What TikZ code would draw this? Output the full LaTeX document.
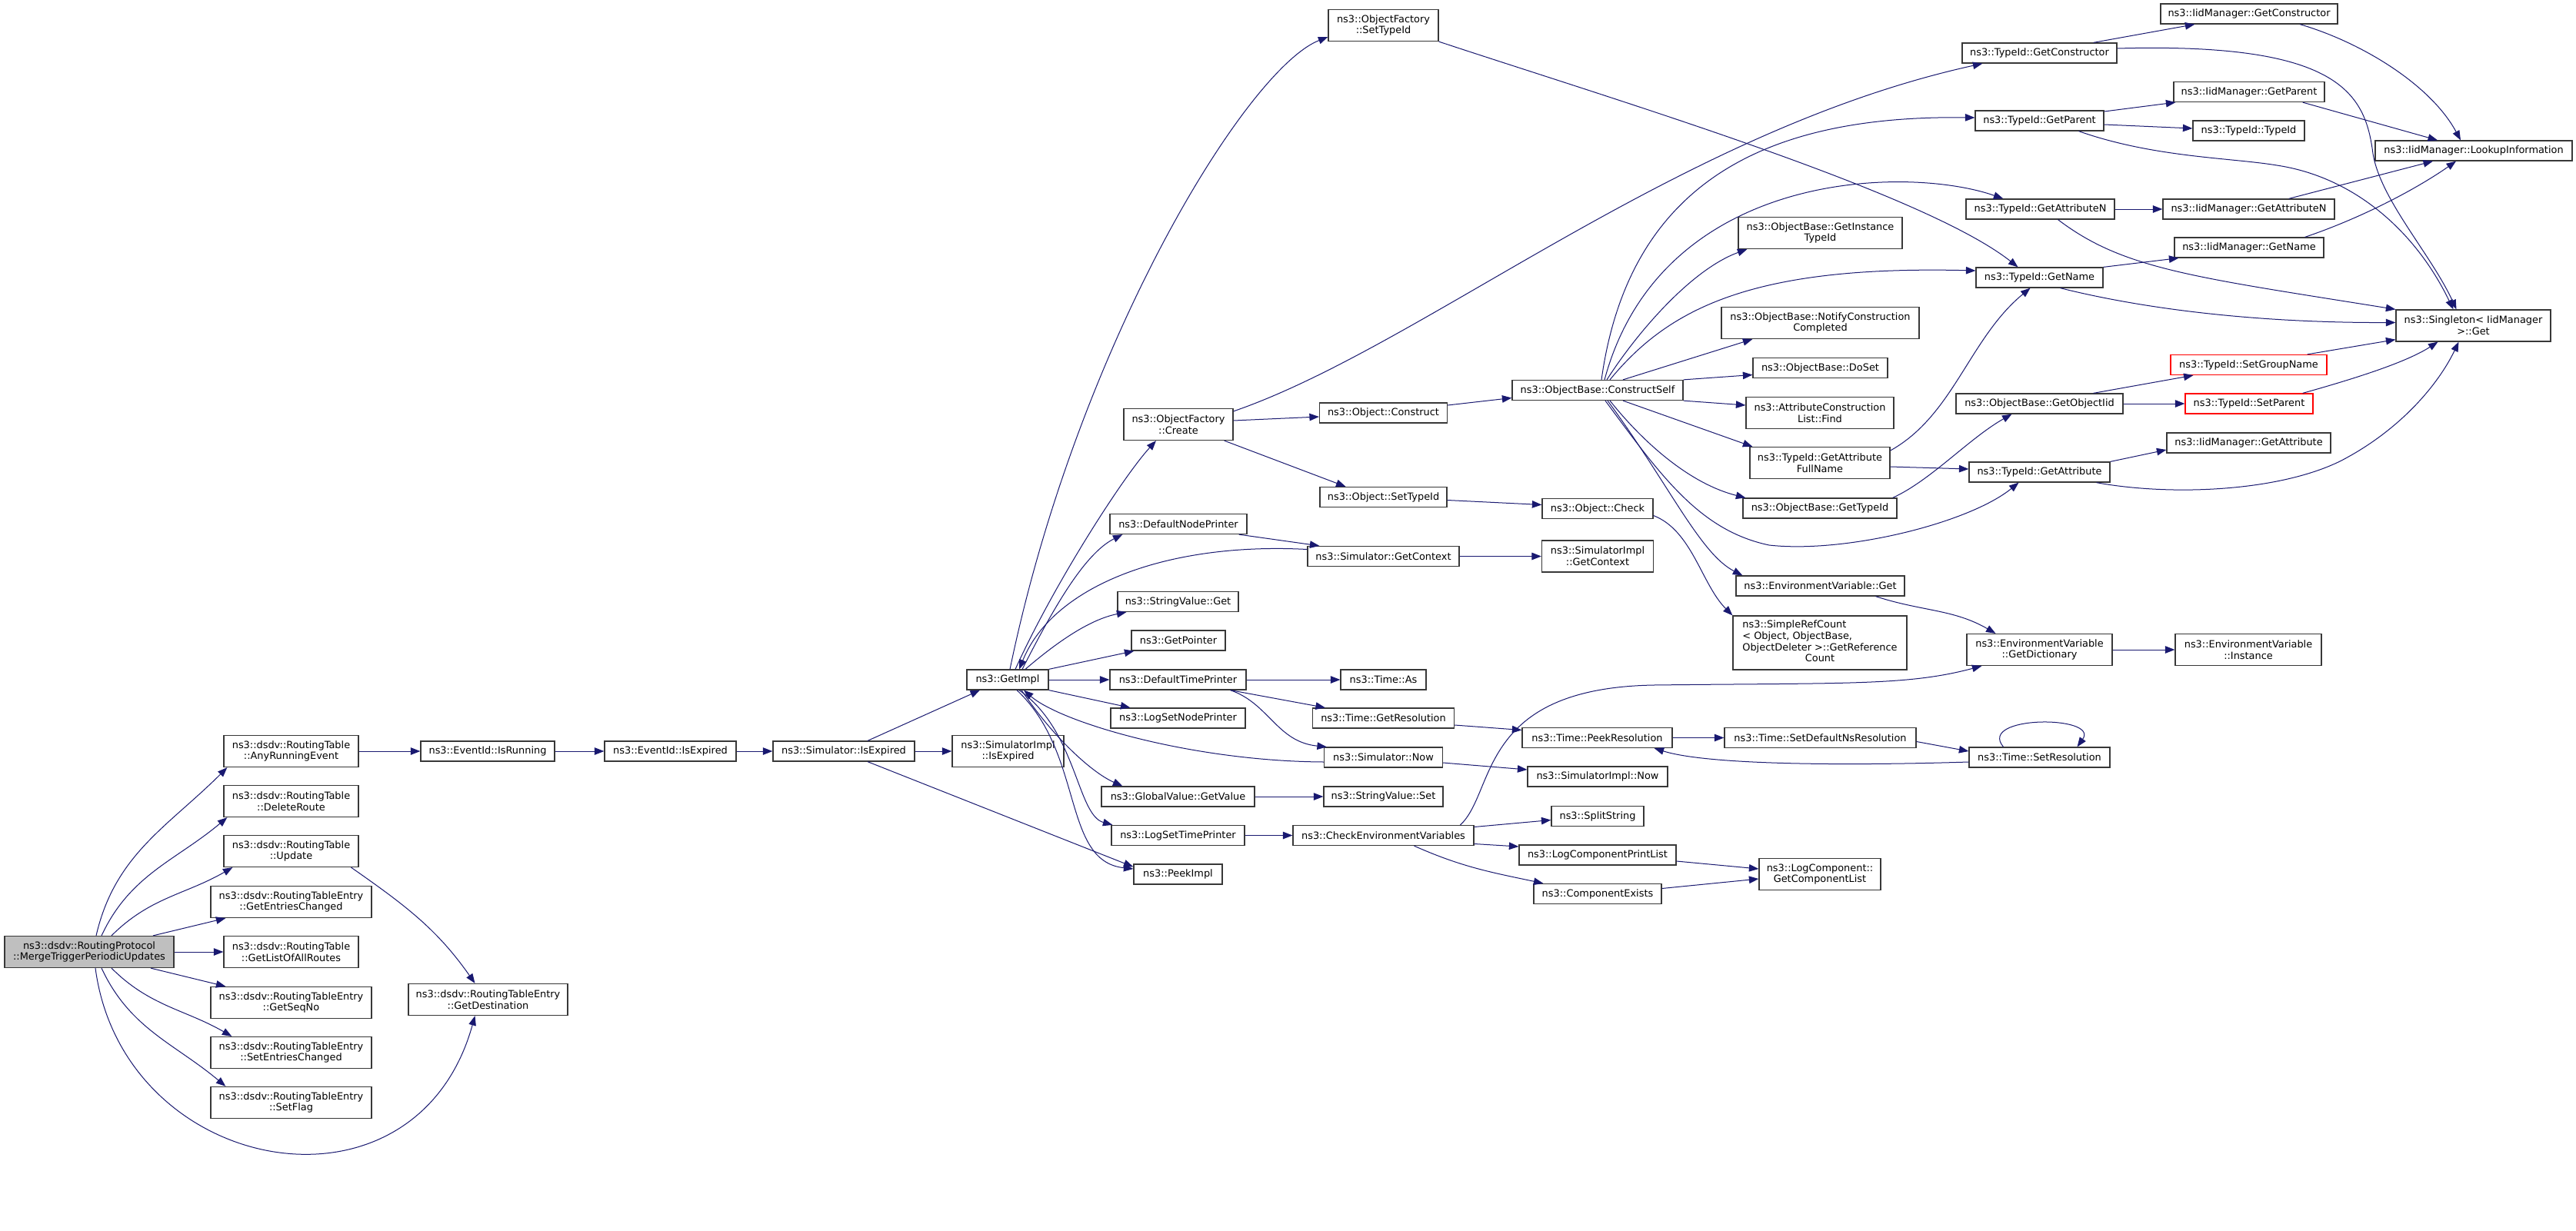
\documentclass[tikz,border=0pt]{standalone}
\usepackage{fontspec}
\usepackage{tikz}
\usetikzlibrary{arrows.meta}
\newfontfamily\dotfont{DejaVu Sans}
\definecolor{edgeblue}{HTML}{191970}
\definecolor{rootgray}{HTML}{BFBFBF}
\tikzset{
	fn/.style={draw=black!78, line width=1.25pt, fill=white, align=center, inner xsep=1pt, inner ysep=0pt, minimum height=26pt, font=\dotfont\fontsize{12.9}{14.7}\selectfont},
	fntwo/.style={fn, minimum height=41pt},
	fnred/.style={fn, draw=red},
	call/.style={draw=edgeblue, line width=1pt, -{Triangle[length=12.5pt,width=9.5pt]}},
}

\begin{document}
\begin{tikzpicture}[x=1pt,y=1pt]
			%%%%% START %%%%%
			
			\fill[white] (0,0) rectangle (3349,-1504);
			
			% caller and its direct callees
			\node[fntwo, fill=rootgray, minimum width=220] (root) at (116,-1238) {ns3::dsdv::RoutingProtocol\\::MergeTriggerPeriodicUpdates};
			\node[fntwo, minimum width=175] (anyrun) at (378.5,-977) {ns3::dsdv::RoutingTable\\::AnyRunningEvent};
			\node[fntwo, minimum width=175] (delroute) at (378.5,-1042) {ns3::dsdv::RoutingTable\\::DeleteRoute};
			\node[fntwo, minimum width=175] (update) at (378.5,-1107) {ns3::dsdv::RoutingTable\\::Update};
			\node[fntwo, minimum width=209] (getentch) at (378.5,-1173) {ns3::dsdv::RoutingTableEntry\\::GetEntriesChanged};
			\node[fntwo, minimum width=175] (listall) at (378.5,-1238) {ns3::dsdv::RoutingTable\\::GetListOfAllRoutes};
			\node[fntwo, minimum width=209] (seqno) at (378.5,-1304) {ns3::dsdv::RoutingTableEntry\\::GetSeqNo};
			\node[fntwo, minimum width=209] (setentch) at (378.5,-1369) {ns3::dsdv::RoutingTableEntry\\::SetEntriesChanged};
			\node[fntwo, minimum width=209] (setflag) at (378.5,-1434) {ns3::dsdv::RoutingTableEntry\\::SetFlag};
			\node[fn, minimum width=174] (isrun) at (634,-977) {ns3::EventId::IsRunning};
			\node[fntwo, minimum width=207] (getdest) at (634.5,-1300) {ns3::dsdv::RoutingTableEntry\\::GetDestination};
			\node[fn, minimum width=171] (eidexp) at (871.5,-977) {ns3::EventId::IsExpired};
			\node[fn, minimum width=184] (simexp) at (1097,-977) {ns3::Simulator::IsExpired};
			\node[fntwo, minimum width=145] (implexp) at (1310.5,-977) {ns3::SimulatorImpl\\::IsExpired};
			\node[fn, minimum width=106] (getimpl) at (1310,-884) {ns3::GetImpl};
			
			% callees of GetImpl
			\node[fntwo, minimum width=142] (ofcreate) at (1532,-552) {ns3::ObjectFactory\\::Create};
			\node[fn, minimum width=178] (dnodepr) at (1532,-681.5) {ns3::DefaultNodePrinter};
			\node[fn, minimum width=157] (svget) at (1531.5,-782.5) {ns3::StringValue::Get};
			\node[fn, minimum width=122] (getptr) at (1532,-833) {ns3::GetPointer};
			\node[fn, minimum width=177] (dtimepr) at (1531.5,-884) {ns3::DefaultTimePrinter};
			\node[fn, minimum width=175] (lsnodepr) at (1531.5,-934) {ns3::LogSetNodePrinter};
			\node[fn, minimum width=199] (gvget) at (1531.5,-1036) {ns3::GlobalValue::GetValue};
			\node[fn, minimum width=173] (lstimepr) at (1531.5,-1086.5) {ns3::LogSetTimePrinter};
			\node[fn, minimum width=115] (peekimpl) at (1531.5,-1137) {ns3::PeekImpl};
			
			\node[fntwo, minimum width=143] (ofsettid) at (1798.5,-33) {ns3::ObjectFactory\\::SetTypeId};
			\node[fn, minimum width=166] (oconstr) at (1798.5,-537) {ns3::Object::Construct};
			\node[fn, minimum width=165] (osettid) at (1798.5,-646.5) {ns3::Object::SetTypeId};
			\node[fn, minimum width=197] (simctx) at (1798.5,-723.5) {ns3::Simulator::GetContext};
			\node[fn, minimum width=111] (timeas) at (1798.5,-884) {ns3::Time::As};
			\node[fn, minimum width=184] (getres) at (1798.5,-934) {ns3::Time::GetResolution};
			\node[fn, minimum width=154] (simnow) at (1798.5,-985) {ns3::Simulator::Now};
			\node[fn, minimum width=155] (svset) at (1798.5,-1036) {ns3::StringValue::Set};
			\node[fn, minimum width=235] (checkenv) at (1798.5,-1086.5) {ns3::CheckEnvironmentVariables};
			
			\node[fn, minimum width=222] (cself) at (2077,-507.5) {ns3::ObjectBase::ConstructSelf};
			\node[fn, minimum width=144] (ocheck) at (2077,-661.5) {ns3::Object::Check};
			\node[fntwo, minimum width=145] (implctx) at (2077,-723.5) {ns3::SimulatorImpl\\::GetContext};
			\node[fn, minimum width=195] (peekres) at (2076.5,-959.5) {ns3::Time::PeekResolution};
			\node[fn, minimum width=182] (implnow) at (2077,-1010) {ns3::SimulatorImpl::Now};
			\node[fn, minimum width=120] (splitstr) at (2077,-1061.5) {ns3::SplitString};
			\node[fn, minimum width=204] (lcprint) at (2077,-1112) {ns3::LogComponentPrintList};
			\node[fn, minimum width=166] (compex) at (2077,-1162.5) {ns3::ComponentExists};
			
			\node[fntwo, minimum width=213] (instid) at (2366.5,-303) {ns3::ObjectBase::GetInstance\\TypeId};
			\node[fntwo, minimum width=257] (notify) at (2366.5,-420) {ns3::ObjectBase::NotifyConstruction\\Completed};
			\node[fn, minimum width=175] (doset) at (2366.5,-478.5) {ns3::ObjectBase::DoSet};
			\node[fntwo, minimum width=192] (aclfind) at (2366,-537) {ns3::AttributeConstruction\\List::Find};
			\node[fntwo, minimum width=182] (attrfull) at (2366,-602) {ns3::TypeId::GetAttribute\\FullName};
			\node[fn, minimum width=200] (obtid) at (2366,-661) {ns3::ObjectBase::GetTypeId};
			\node[fn, minimum width=219] (envget) at (2366.5,-762) {ns3::EnvironmentVariable::Get};
			\node[fn, minimum width=226, minimum height=70] (refcount) at (2366,-836) {\begin{tabular}{@{}c@{}}\multicolumn{1}{@{}l@{}}{ns3::SimpleRefCount}\\\multicolumn{1}{@{}l@{}}{< Object, ObjectBase,}\\ObjectDeleter >::GetReference\\Count\end{tabular}};
			\node[fn, minimum width=249] (setdefres) at (2366.5,-959.5) {ns3::Time::SetDefaultNsResolution};
			\node[fntwo, minimum width=158] (complist) at (2366,-1137) {ns3::LogComponent::\\GetComponentList};
			
			\node[fn, minimum width=201] (tgetctor) at (2651.5,-69) {ns3::TypeId::GetConstructor};
			\node[fn, minimum width=167] (tgetpar) at (2651.5,-157) {ns3::TypeId::GetParent};
			\node[fn, minimum width=193] (tgetattn) at (2652.5,-272) {ns3::TypeId::GetAttributeN};
			\node[fn, minimum width=165] (tgetname) at (2651.5,-361) {ns3::TypeId::GetName};
			\node[fn, minimum width=217] (objiid) at (2651.5,-525) {ns3::ObjectBase::GetObjectIid};
			\node[fn, minimum width=183] (tgetattr) at (2651.5,-614) {ns3::TypeId::GetAttribute};
			\node[fntwo, minimum width=189] (envdict) at (2651.5,-845) {ns3::EnvironmentVariable\\::GetDictionary};
			\node[fn, minimum width=183] (setres) at (2651.5,-985) {ns3::Time::SetResolution};
			
			\node[fn, minimum width=230] (igetctor) at (2924,-18) {ns3::IidManager::GetConstructor};
			\node[fn, minimum width=196] (igetpar) at (2924,-119.5) {ns3::IidManager::GetParent};
			\node[fn, minimum width=145] (typeid) at (2923.5,-170) {ns3::TypeId::TypeId};
			\node[fn, minimum width=223] (igetattn) at (2923.5,-272) {ns3::IidManager::GetAttributeN};
			\node[fn, minimum width=194] (igetname) at (2924,-322) {ns3::IidManager::GetName};
			\node[fnred, minimum width=203] (setgroup) at (2923.5,-474.5) {ns3::TypeId::SetGroupName};
			\node[fnred, minimum width=166] (setpar) at (2924,-525) {ns3::TypeId::SetParent};
			\node[fn, minimum width=213] (igetattr) at (2923.5,-576) {ns3::IidManager::GetAttribute};
			\node[fntwo, minimum width=190] (envinst) at (2923,-845) {ns3::EnvironmentVariable\\::Instance};
			
			\node[fn, minimum width=256] (lookup) at (3216,-196) {ns3::IidManager::LookupInformation};
			\node[fntwo, minimum width=201] (singleton) at (3215.5,-423.5) {ns3::Singleton< IidManager\\ >::Get};
			
			% calls from the caller
			\draw[call] ([xshift=9]root.north) to[out=77,in=-135] ([xshift=5]anyrun.south west);
			\draw[call] ([xshift=16]root.north) to[out=65,in=-140] ([xshift=5]delroute.south west);
			\draw[call] ([xshift=29]root.north) to[out=45,in=-150] ([xshift=12]update.south west);
			\draw[call] ([xshift=83]root.north) -- ([xshift=20]getentch.south west);
			\draw[call] (root.east) -- (listall.west);
			\draw[call] ([xshift=80]root.south) -- ([xshift=20]seqno.north west);
			\draw[call] ([xshift=29]root.south) to[out=-45,in=150] ([xshift=28]setentch.north west);
			\draw[call] ([xshift=16]root.south) to[out=-65,in=140] ([xshift=20]setflag.north west);
			\draw[call] ([xshift=8]root.south) .. controls (160,-1530) and (540,-1600) .. ([xshift=-17]getdest.south);
			\draw[call] ([xshift=78]update.south) to[out=-35,in=125] ([xshift=-17]getdest.north);
			
			\draw[call] (anyrun.east) -- (isrun.west);
			\draw[call] (isrun.east) -- (eidexp.west);
			\draw[call] (eidexp.east) -- (simexp.west);
			\draw[call] (simexp.east) -- (implexp.west);
			\draw[call] ([xshift=31]simexp.north) -- ([xshift=-36]getimpl.south);
			\draw[call] ([xshift=31]simexp.south) -- ([yshift=-4]peekimpl.north west);
			
			% GetImpl
			\draw[call] ([xshift=3]getimpl.north) .. controls (1400,-450) and (1620,-90) .. ([yshift=-15]ofsettid.west);
			\draw[call] ([xshift=10]getimpl.north) .. controls (1370,-760) and (1460,-620) .. ([xshift=-29]ofcreate.south);
			\draw[call] ([yshift=9]simctx.west) .. controls (1520,-705) and (1370,-760) .. ([xshift=15]getimpl.north);
			\draw[call] ([xshift=19]getimpl.north) .. controls (1370,-790) and (1410,-720) .. ([xshift=17]dnodepr.south west);
			\draw[call] ([xshift=23]getimpl.north) .. controls (1380,-830) and (1420,-805) .. ([xshift=12]svget.south west);
			\draw[call] (getimpl.north east) -- ([xshift=4]getptr.south west);
			\draw[call] (getimpl.east) -- (dtimepr.west);
			\draw[call] (getimpl.south east) -- ([xshift=26]lsnodepr.north west);
			\draw[call] ([yshift=-6]simnow.west) .. controls (1550,-990) and (1380,-940) .. ([xshift=21]getimpl.south);
			\draw[call] ([xshift=18]getimpl.south) .. controls (1370,-960) and (1420,-1005) .. ([xshift=28]gvget.north west);
			\draw[call] ([xshift=15]getimpl.south) .. controls (1400,-950) and (1400,-1060) .. ([xshift=2]lstimepr.north west);
			\draw[call] ([xshift=12]getimpl.south) .. controls (1410,-980) and (1380,-1120) .. ([yshift=7]peekimpl.west);
			
			\draw[call] ([xshift=-11]dnodepr.south east) -- ([xshift=16]simctx.north west);
			\draw[call] (simctx.east) -- (implctx.west);
			\draw[call] (dtimepr.east) -- (timeas.west);
			\draw[call] ([xshift=-21]dtimepr.south east) -- ([xshift=17]getres.north west);
			\draw[call] ([xshift=-21]dtimepr.south east) .. controls (1650,-915) and (1660,-965) .. ([xshift=4]simnow.north west);
			\draw[call] ([yshift=-9]getres.east) -- ([yshift=10]peekres.west);
			\draw[call] (peekres.east) -- (setdefres.west);
			\draw[call] ([yshift=-5]setdefres.east) -- ([yshift=8]setres.west);
			\draw[call] ([yshift=-6]setres.west) .. controls (2400,-996) and (2220,-995) .. ([xshift=-24]peekres.south east);
			\draw[call] ([xshift=-47]setres.north) .. controls (2570,-930) and (2730,-930) .. ([xshift=49]setres.north);
			\draw[call] ([yshift=-7]simnow.east) -- ([yshift=9]implnow.west);
			\draw[call] (gvget.east) -- (svset.west);
			\draw[call] (lstimepr.east) -- (checkenv.west);
			\draw[call] ([yshift=11]checkenv.east) -- ([yshift=-5]splitstr.west);
			\draw[call] ([yshift=-11]checkenv.east) -- ([yshift=11]lcprint.west);
			\draw[call] ([xshift=40]checkenv.south) to[out=-24,in=168] ([xshift=13]compex.north west);
			\draw[call] ([yshift=-8]lcprint.east) -- ([yshift=7]complist.west);
			\draw[call] ([yshift=7]compex.east) -- ([yshift=-6]complist.west);
			\draw[call] ([xshift=100]checkenv.north) .. controls (1945,-1030) and (1920,-895) .. (2150,-891) .. controls (2400,-888) and (2480,-892) .. ([xshift=20]envdict.south west);
			\draw[call] ([xshift=72]envget.south) to[out=-18,in=150] ([xshift=-57]envdict.north);
			\draw[call] (envdict.east) -- (envinst.west);
			
			% ObjectFactory and ConstructSelf
			\draw[call] ([yshift=5]ofcreate.east) -- ([yshift=-5]oconstr.west);
			\draw[call] ([xshift=-12]ofcreate.south east) -- ([xshift=-49]osettid.north);
			\draw[call] ([yshift=-4]ofcreate.north east) .. controls (1850,-450) and (2180,-170) .. ([xshift=27]tgetctor.south west);
			\draw[call] (ofsettid.south east) .. controls (2100,-130) and (2500,-250) .. ([xshift=-28]tgetname.north);
			\draw[call] ([yshift=10]oconstr.east) -- ([yshift=-10]cself.west);
			\draw[call] ([yshift=-4]osettid.east) -- ([yshift=5]ocheck.west);
			\draw[call] ([yshift=-9]ocheck.east) .. controls (2200,-690) and (2212,-760) .. (refcount.north west);
			
			\draw[call] ([xshift=5]cself.north) .. controls (2120,-220) and (2320,-150) .. ([yshift=4]tgetpar.west);
			\draw[call] ([xshift=9]cself.north) .. controls (2160,-220) and (2480,-215) .. ([xshift=49]tgetattn.north west);
			\draw[call] ([xshift=12]cself.north) .. controls (2130,-430) and (2200,-350) .. ([xshift=12]instid.south west);
			\draw[call] ([xshift=16]cself.north) .. controls (2170,-400) and (2280,-345) .. ([yshift=9]tgetname.west);
			\draw[call] ([xshift=33]cself.north) -- ([xshift=41]notify.south west);
			\draw[call] (cself.north east) -- ([yshift=-9]doset.west);
			\draw[call] (cself.south east) -- ([yshift=10]aclfind.west);
			\draw[call] ([xshift=33]cself.south) -- ([xshift=4]attrfull.north west);
			\draw[call] ([xshift=16]cself.south) .. controls (2140,-580) and (2200,-630) .. ([xshift=4]obtid.north west);
			\draw[call] ([xshift=13]cself.south) .. controls (2170,-630) and (2210,-720) .. ([xshift=9]envget.north west);
			\draw[call] ([xshift=10]cself.south) .. controls (2160,-620) and (2210,-690) .. (2300,-709) .. controls (2400,-720) and (2560,-680) .. ([xshift=-27]tgetattr.south);
			
			\draw[call] ([yshift=16]attrfull.east) .. controls (2540,-540) and (2560,-440) .. ([xshift=-12]tgetname.south);
			\draw[call] ([yshift=-5]attrfull.east) -- ([yshift=4]tgetattr.west);
			\draw[call] ([xshift=-6]obtid.north east) .. controls (2510,-625) and (2560,-570) .. ([xshift=-36]objiid.south);
			
			% TypeId and IidManager
			\draw[call] ([xshift=-31]tgetctor.north east) -- ([xshift=45]igetctor.south west);
			\draw[call] ([yshift=6]tgetctor.east) .. controls (3040,-55) and (3075,-120) .. (3085,-200) .. controls (3095,-260) and (3160,-330) .. ([xshift=-22]singleton.north);
			\draw[call] ([xshift=66]igetctor.south) .. controls (3070,-55) and (3160,-110) .. ([xshift=-17]lookup.north);
			\draw[call] ([yshift=12]tgetpar.east) -- ([xshift=3]igetpar.south west);
			\draw[call] ([yshift=-5]tgetpar.east) -- ([yshift=3]typeid.west);
			\draw[call] ([xshift=51]tgetpar.south) .. controls (2800,-205) and (2900,-205) .. (2960,-215) .. controls (3060,-230) and (3140,-300) .. ([xshift=-26]singleton.north);
			\draw[call] ([xshift=-29]igetpar.south east) -- ([xshift=-47]lookup.north);
			\draw[call] (tgetattn.east) -- (igetattn.west);
			\draw[call] ([xshift=23]tgetattn.south) .. controls (2760,-350) and (2850,-360) .. (singleton.north west);
			\draw[call] ([xshift=-60]igetattn.north east) -- ([xshift=-53]lookup.south);
			\draw[call] ([xshift=-25]igetname.north east) .. controls (3080,-280) and (3150,-240) .. ([xshift=-23]lookup.south);
			\draw[call] (tgetname.north east) -- ([xshift=6]igetname.south west);
			\draw[call] ([xshift=27]tgetname.south) .. controls (2800,-405) and (2950,-420) .. ([yshift=4]singleton.west);
			\draw[call] ([xshift=-26]setgroup.north east) -- ([yshift=3]singleton.south west);
			\draw[call] ([xshift=-14]setpar.north east) .. controls (3070,-490) and (3130,-470) .. ([xshift=-46]singleton.south);
			\draw[call] ([xshift=70]objiid.north) -- ([xshift=-72]setgroup.south);
			\draw[call] (objiid.east) -- (setpar.west);
			\draw[call] (tgetattr.north east) -- ([yshift=-9]igetattr.west);
			\draw[call] ([xshift=74]tgetattr.south) .. controls (2820,-645) and (2960,-640) .. (3042,-600) .. controls (3120,-560) and (3170,-500) .. ([xshift=-19]singleton.south);
			
			%%%%% END %%%%%
\end{tikzpicture}
\end{document}
